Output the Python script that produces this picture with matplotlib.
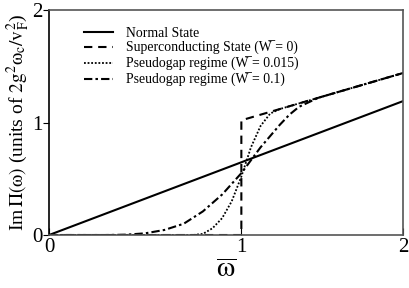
import matplotlib
matplotlib.use('Agg')
import matplotlib.pyplot as plt

plt.rcParams['font.family'] = ['Liberation Serif', 'DejaVu Serif']
plt.rcParams['mathtext.fontset'] = 'stix'

# ── data (x axis ends at the "2" label) ────────────────────────────────
X_END = 1.84

normal_x = [0.0, X_END]
normal_y = [0.0, 1.19]

sc_x = [0.0, 1.0, 1.0, 1.2, 1.4, 1.6, X_END]
sc_y = [0.0, 0.0, 1.02, 1.12, 1.22, 1.32, 1.44]

pg1_x = [0.0, 0.75, 0.8, 0.85, 0.9, 0.95, 1.0, 1.05, 1.1, 1.15, 1.2, 1.4, 1.6, X_END]
pg1_y = [0.0, 0.0, 0.01, 0.06, 0.15, 0.30, 0.52, 0.78, 0.97, 1.08, 1.12, 1.22, 1.32, 1.44]

pg2_x = [0.0, 0.3, 0.4, 0.5, 0.6, 0.7, 0.8, 0.9, 1.0, 1.1, 1.15, 1.2, 1.25, 1.3,
         1.4, 1.5, 1.6, 1.7, X_END]
pg2_y = [0.0, 0.0, 0.003, 0.015, 0.045, 0.10, 0.21, 0.36, 0.55, 0.78, 0.88, 0.98,
         1.07, 1.14, 1.22, 1.27, 1.32, 1.37, 1.44]

WBAR = 'W\u0305'
labels = ['Normal State',
          'Superconducting State (' + WBAR + ' = 0)',
          'Pseudogap regime (' + WBAR + ' = 0.015)',
          'Pseudogap regime (' + WBAR + ' = 0.1)']

x_ticks = [0, 1, X_END]
x_ticklabels = ['0', '1', '2']
y_ticks = [0, 1, 2]

fig = plt.figure(figsize=(4.09, 2.88), dpi=100)
ax = fig.add_axes([0.12, 0.184, 0.865, 0.781])

ax.plot(normal_x, normal_y, color='black', lw=1.5, label=labels[0])
ax.plot(sc_x, sc_y, color='black', lw=1.5, dashes=(4, 2.8), label=labels[1])
ax.plot(pg1_x, pg1_y, color='black', lw=1.3, linestyle=(0, (1, 1)), label=labels[2])
ax.plot(pg2_x, pg2_y, color='black', lw=1.5, linestyle=(0, (4, 1.5, 1.2, 1.5)), label=labels[3])

ax.set_xlim(0, X_END)
ax.set_ylim(0, 2)
ax.set_xticks(x_ticks)
ax.set_xticklabels(x_ticklabels)
ax.set_yticks(y_ticks)
ax.tick_params(axis='x', direction='in', length=5, labelsize=15, pad=2)
ax.tick_params(axis='y', direction='out', length=4, labelsize=15, pad=1)

for s in ['top', 'right', 'bottom']:
    ax.spines[s].set_color('#555555')
ax.spines['left'].set_color('black')
for s in ax.spines.values():
    s.set_linewidth(1.2)

ax.set_xlabel(r'$\overline{\mathrm{\omega}}$', fontsize=21, labelpad=0.5)
ax.set_ylabel(r'Im$\,\Pi(\mathrm{\omega})$ (units of $2\mathrm{g}^2\mathrm{\omega}_\mathrm{c}/\mathrm{v}_\mathrm{F}^2$)',
              fontsize=14, labelpad=0)

ax.legend(loc='upper left', bbox_to_anchor=(0.064, 0.982), frameon=False,
          fontsize=9.9, handlelength=2.1, handletextpad=0.95, labelspacing=0.13)

fig.savefig('out.png', dpi=100, facecolor='white')
